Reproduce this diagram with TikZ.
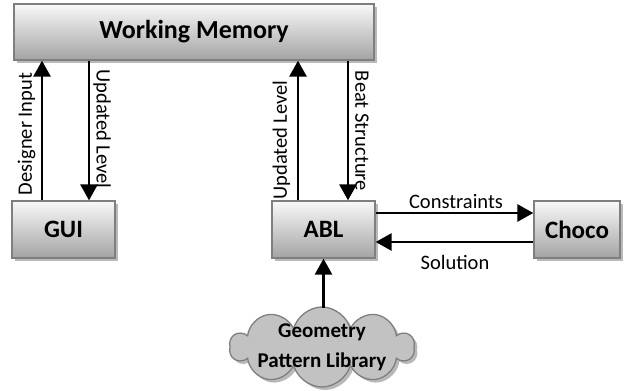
\documentclass[tikz,border=0pt]{standalone}
\usepackage{fontspec}
\setmainfont{Carlito}
\usetikzlibrary{shapes.symbols,shadows,arrows.meta}
\definecolor{bord}{HTML}{7F7F7F}
\begin{document}
\begin{tikzpicture}[x=1pt,y=-1pt,
  shad/.style={drop shadow={shadow xshift=3pt,shadow yshift=-3pt,fill=gray!55,opacity=1}},
  box/.style={draw=bord, line width=1.3pt, top color=gray!5, bottom color=gray!72, shad,
    inner sep=0pt, font=\bfseries\fontsize{25}{28}\selectfont},
  arr/.style={line width=2.8pt, -{Triangle[width=17pt,length=16pt]}},
  lab/.style={inner sep=0pt, font=\fontsize{20.5}{24}\selectfont}]
\useasboundingbox (0,0) rectangle (635,391);
\node[box, minimum width=360, minimum height=56, font=\bfseries\fontsize{26}{28}\selectfont] (wm) at (194,32) {Working Memory};
\node[box, minimum width=103, minimum height=57] (gui) at (63.5,229.5) {GUI};
\node[box, minimum width=103, minimum height=57] (abl) at (323.5,229.5) {ABL};
\node[box, minimum width=86, minimum height=57] (choco) at (577,229.5) {Choco};
\node[cloud, cloud puffs=10, aspect=2.3, draw=bord, line width=1.3pt, fill=gray!48, shad,
  minimum width=184, minimum height=80, inner sep=0pt] (gpl) at (322,347) {};
\node[align=center, inner sep=0pt, font=\bfseries\fontsize{21}{30}\selectfont] (gpltext) at (gpl.center) {Geometry\\Pattern Library};
% connectors
\draw[arr] ([xshift=-21.5pt]gui.north) -- ([xshift=-21.5pt]gui.north |- wm.south);
\draw[arr] ([xshift=25.5pt]gui.north |- wm.south) -- ([xshift=25.5pt]gui.north);
\draw[arr] ([xshift=-25.5pt]abl.north) -- ([xshift=-25.5pt]abl.north |- wm.south);
\draw[arr] ([xshift=24.5pt]abl.north |- wm.south) -- ([xshift=24.5pt]abl.north);
\draw[arr] ([yshift=16.5pt]abl.east) -- ([yshift=16.5pt]choco.west);
\draw[arr] ([yshift=-12.5pt]choco.west) -- ([yshift=-12.5pt]abl.east);
\draw[arr] (gpl.north) -- (gpl.north -| abl.south) -- (abl.south);
% labels
\node[lab, rotate=90] (l1) at (26.5,134) {Designer Input};
\node[lab, rotate=-90] (l2) at (102,129) {Updated Level};
\node[lab, rotate=90] (l3) at (281.5,140) {Updated Level};
\node[lab, rotate=-90] (l4) at (362,131) {Beat Structure};
\node[lab] (l5) at (456,202) {Constraints};
\node[lab] (l6) at (455,262) {Solution};
\end{tikzpicture}
\end{document}
